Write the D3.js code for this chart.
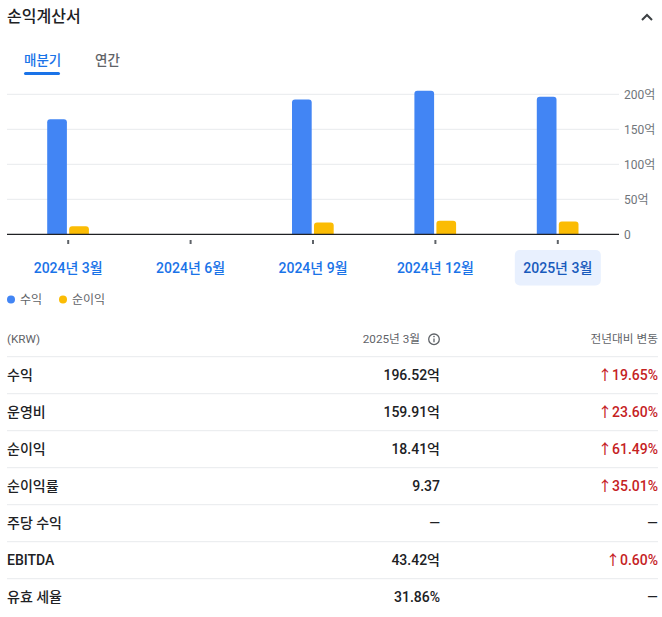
<!DOCTYPE html>
<html><head><meta charset="utf-8">
<script src="https://cdn.jsdelivr.net/npm/d3@7/dist/d3.min.js"></script>
<style>
body{margin:0;background:#fff;}
svg{display:block;font-family:'Roboto','Noto Sans CJK KR',sans-serif;}
</style></head>
<body>
<svg id="c" width="662" height="617"></svg>
<script>
const categories = ["2024년 3월","2024년 6월","2024년 9월","2024년 12월","2025년 3월"];
const revenue = [164.25, null, 192.5, 205.0, 196.52];
const netIncome = [11.40, null, 17.0, 19.4, 18.41];
const yTicks = [0, 50, 100, 150, 200];
const seriesNames = ["수익", "순이익"];
const seriesColors = ["#4285f4", "#fbbc04"];
const rowLabels = ["수익","운영비","순이익","순이익률","주당 수익","EBITDA","유효 세율"];
const rowValues = ["196.52억","159.91억","18.41억","9.37","—","43.42억","31.86%"];
const rowChanges = ["19.65%","23.60%","61.49%","35.01%",null,"0.60%",null];
const selected = "2025년 3월";

const svg = d3.select("#c");

// header
svg.append("text").attr("x",7).attr("y",22).attr("font-size",16).attr("fill","#202124")
  .attr("font-weight",500).text("손익계산서");
svg.append("path").attr("d","M642,20 L647,15 L652,20").attr("fill","none")
  .attr("stroke","#3c4043").attr("stroke-width",2);

// tabs
svg.append("text").attr("x",24).attr("y",65).attr("font-size",13.5).attr("font-weight",500)
  .attr("fill","#1a73e8").text("매분기");
svg.append("text").attr("x",95).attr("y",65).attr("font-size",13.5).attr("font-weight",500)
  .attr("fill","#5f6368").text("연간");
svg.append("rect").attr("x",24).attr("y",72).attr("width",36).attr("height",3).attr("rx",1.5)
  .attr("fill","#1a73e8");

// scales
const x = d3.scaleBand().domain(categories).range([7,619]).paddingInner(0);
const y = d3.scaleLinear().domain([0,200]).range([234.3,94.3]);
const cx = c => x(c) + x.bandwidth()/2;

// grid
svg.append("g").selectAll("line").data(yTicks.filter(t=>t>0)).join("line")
  .attr("x1",7).attr("x2",619).attr("y1",d=>y(d)).attr("y2",d=>y(d))
  .attr("stroke","#e8eaed").attr("stroke-width",1);

// right axis labels
const yAxis = d3.axisRight(y).tickValues(yTicks).tickSize(0).tickPadding(5)
  .tickFormat(d => d===0 ? "0" : d + "억");
const ga = svg.append("g").attr("transform","translate(619,0)").call(yAxis);
ga.select(".domain").remove();
ga.selectAll("text").attr("font-size",12).attr("fill","#70757a")
  .attr("font-family","'Roboto','Noto Sans CJK KR',sans-serif");

// bars
function topRounded(x0,w,yTop,yBase,r){
  r = Math.min(r, (yBase-yTop), w/2);
  return `M${x0},${yBase}V${yTop+r}Q${x0},${yTop} ${x0+r},${yTop}H${x0+w-r}Q${x0+w},${yTop} ${x0+w},${yTop+r}V${yBase}Z`;
}
const bw = 19.7;
const bars = svg.append("g");
categories.forEach((c,i)=>{
  if(revenue[i]!=null){
    bars.append("path").attr("d",topRounded(cx(c)-21,bw,y(revenue[i]),y(0),3)).attr("fill",seriesColors[0]);
  }
  if(netIncome[i]!=null){
    bars.append("path").attr("d",topRounded(cx(c)+1,bw,y(netIncome[i]),y(0),3)).attr("fill",seriesColors[1]);
  }
});

// baseline
svg.append("line").attr("x1",7).attr("x2",619).attr("y1",y(0)).attr("y2",y(0))
  .attr("stroke","#202124").attr("stroke-width",1.3);

// x ticks
const xAxis = d3.axisBottom(x).tickSize(4).tickFormat("");
const gx = svg.append("g").attr("transform","translate(0,240)").call(xAxis);
gx.select(".domain").remove();
gx.selectAll("line").attr("stroke","#5f6368").attr("stroke-width",2);

// x labels
svg.append("rect").attr("x",cx(selected)-43).attr("y",250).attr("width",86)
  .attr("height",35.5).attr("rx",5).attr("fill","#e8f0fe");
svg.append("g").selectAll("text").data(categories).join("text")
  .attr("x",d=>cx(d)).attr("y",273).attr("text-anchor","middle")
  .attr("font-size",14).attr("font-weight",500)
  .attr("fill",d=>d===selected?"#185abc":"#1a73e8").text(d=>d);

// legend
const lx = [11, 63];
seriesNames.forEach((n,i)=>{
  svg.append("circle").attr("cx",lx[i]).attr("cy",299.5).attr("r",4).attr("fill",seriesColors[i]);
  svg.append("text").attr("x",lx[i]+9).attr("y",304).attr("font-size",12).attr("fill","#5f6368").text(n);
});

// table header
svg.append("text").attr("x",7).attr("y",343).attr("font-size",11.7).attr("fill","#5f6368").text("(KRW)");
svg.append("text").attr("x",420).attr("y",343).attr("text-anchor","end").attr("font-size",11.7)
  .attr("fill","#5f6368").text("2025년 3월");
svg.append("circle").attr("cx",434).attr("cy",339.3).attr("r",5.3).attr("fill","none")
  .attr("stroke","#5f6368").attr("stroke-width",1.3);
svg.append("circle").attr("cx",434).attr("cy",336.6).attr("r",0.8).attr("fill","#5f6368");
svg.append("line").attr("x1",434).attr("x2",434).attr("y1",338.5).attr("y2",342.3)
  .attr("stroke","#5f6368").attr("stroke-width",1.3);
svg.append("text").attr("x",658).attr("y",343).attr("text-anchor","end").attr("font-size",11.7)
  .attr("fill","#5f6368").text("전년대비 변동");

// table rows
const rowTop = 356.7, rowH = 37;
rowLabels.forEach((lab,i)=>{
  const yl = rowTop + i*rowH;
  svg.append("line").attr("x1",7).attr("x2",658).attr("y1",yl).attr("y2",yl)
    .attr("stroke","#e8eaed").attr("stroke-width",1);
  const yt = yl + rowH/2 + 5;
  svg.append("text").attr("x",7).attr("y",yt).attr("font-size",14).attr("font-weight",500)
    .attr("fill","#202124").text(lab);
  svg.append("text").attr("x",440).attr("y",yt).attr("text-anchor","end").attr("font-size",14)
    .attr("font-weight",500).attr("fill","#202124").text(rowValues[i]);
  if(rowChanges[i]){
    svg.append("text").attr("x",658).attr("y",yt).attr("text-anchor","end").attr("font-size",14)
      .attr("font-weight",500).attr("fill","#c5221f").text("↑" + rowChanges[i]);
  } else {
    svg.append("text").attr("x",658).attr("y",yt).attr("text-anchor","end").attr("font-size",14)
      .attr("fill","#202124").text("—");
  }
});
</script>
</body></html>
